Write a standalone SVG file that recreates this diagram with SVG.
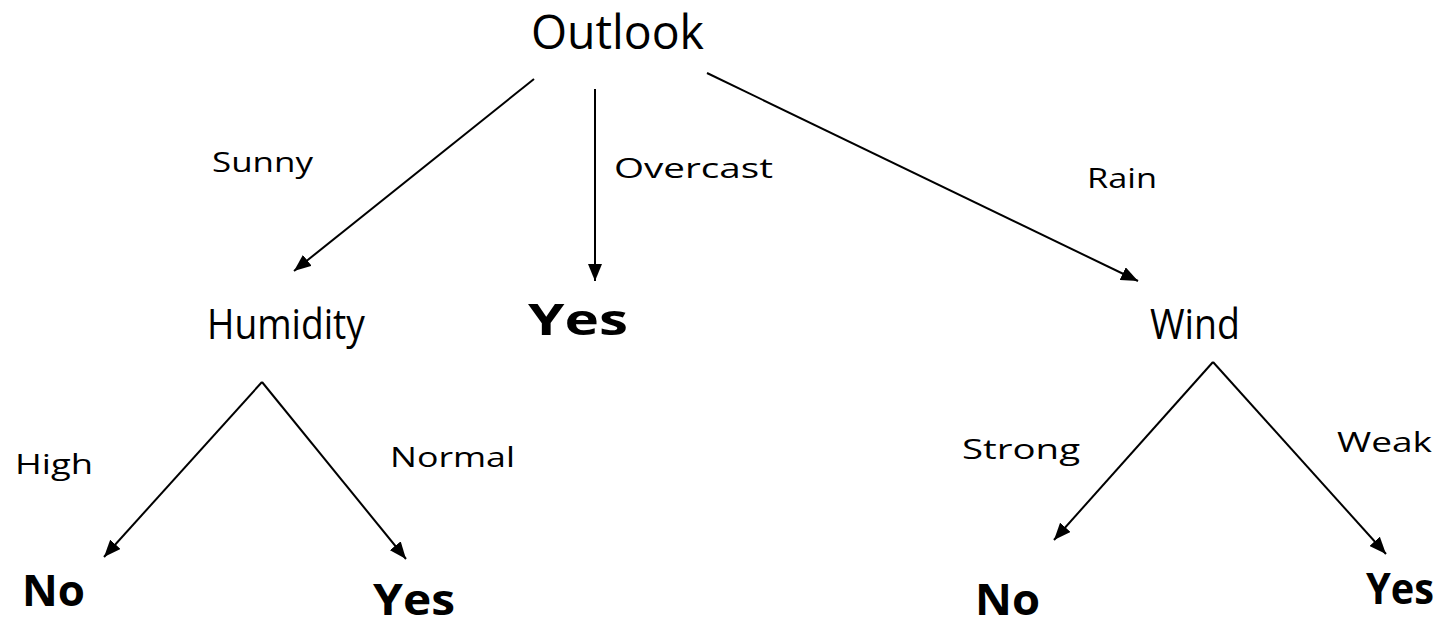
<svg xmlns="http://www.w3.org/2000/svg" width="1439" height="627" viewBox="0 0 1439 627">
<style>
  text { font-family: "Comic Sans MS", "Open Sans", "DejaVu Sans", sans-serif; fill: #000; }
  .node { font-size: 42px; }
  .root { font-size: 48px; }
  .leaf { font-size: 43px; font-weight: bold; }
  .lbl { font-size: 28px; }
  .edge { stroke: #000; stroke-width: 2; fill: none; marker-end: url(#arr); }
</style>
<defs>
  <marker id="arr" markerUnits="userSpaceOnUse" markerWidth="17" markerHeight="14" viewBox="0 0 17 14" refX="17" refY="7" orient="auto">
    <path d="M0,0 L17,7 L0,14 Z" fill="#000"/>
  </marker>
</defs>
<g id="connectors">
  <line class="edge" x1="534" y1="79" x2="294" y2="271"/>
  <line class="edge" x1="595" y1="89" x2="595" y2="281"/>
  <line class="edge" x1="707" y1="73" x2="1138" y2="281"/>
  <line class="edge" x1="262" y1="382" x2="104" y2="557"/>
  <line class="edge" x1="262" y1="382" x2="406" y2="559"/>
  <line class="edge" x1="1213" y1="362" x2="1054" y2="540"/>
  <line class="edge" x1="1213" y1="362" x2="1386" y2="554"/>
</g>
<g id="label-sunny"><text class="lbl" x="212" y="172" textLength="101" lengthAdjust="spacingAndGlyphs">Sunny</text></g>
<g id="label-overcast"><text class="lbl" x="614" y="178" textLength="159" lengthAdjust="spacingAndGlyphs">Overcast</text></g>
<g id="label-rain"><text class="lbl" x="1087" y="188" textLength="70" lengthAdjust="spacingAndGlyphs">Rain</text></g>
<g id="label-high"><text class="lbl" x="15" y="474" textLength="78" lengthAdjust="spacingAndGlyphs">High</text></g>
<g id="label-normal"><text class="lbl" x="390" y="467" textLength="125" lengthAdjust="spacingAndGlyphs">Normal</text></g>
<g id="label-strong"><text class="lbl" x="962" y="459" textLength="118" lengthAdjust="spacingAndGlyphs">Strong</text></g>
<g id="label-weak"><text class="lbl" x="1337" y="452" textLength="95" lengthAdjust="spacingAndGlyphs">Weak</text></g>
<g id="node-outlook"><text class="root" x="531" y="49" textLength="173" lengthAdjust="spacingAndGlyphs">Outlook</text></g>
<g id="node-humidity"><text class="node" x="207" y="339" textLength="158" lengthAdjust="spacingAndGlyphs">Humidity</text></g>
<g id="node-yes-overcast"><text class="leaf" x="528" y="335" textLength="100" lengthAdjust="spacingAndGlyphs">Yes</text></g>
<g id="node-wind"><text class="node" x="1150" y="339" textLength="90" lengthAdjust="spacingAndGlyphs">Wind</text></g>
<g id="node-no-high"><text class="leaf" x="22" y="606" textLength="63" lengthAdjust="spacingAndGlyphs">No</text></g>
<g id="node-yes-normal"><text class="leaf" x="373" y="615" textLength="82" lengthAdjust="spacingAndGlyphs">Yes</text></g>
<g id="node-no-strong"><text class="leaf" x="975" y="615" textLength="65" lengthAdjust="spacingAndGlyphs">No</text></g>
<g id="node-yes-weak"><text class="leaf" x="1366" y="604" textLength="68" lengthAdjust="spacingAndGlyphs">Yes</text></g>
</svg>
